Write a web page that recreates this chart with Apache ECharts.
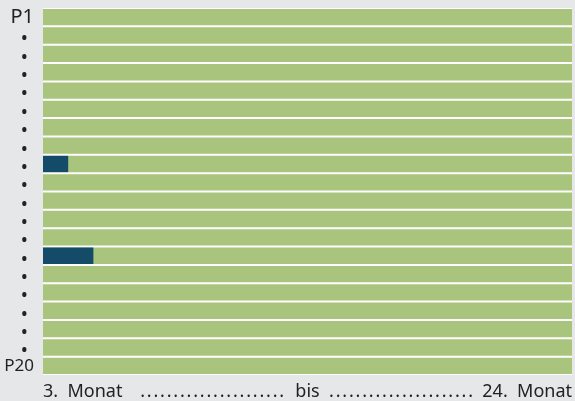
<!DOCTYPE html>
<html>
<head>
<meta charset="utf-8">
<script src="https://cdn.jsdelivr.net/npm/echarts@6/dist/echarts.min.js"></script>
<style>
  html, body { margin: 0; padding: 0; background: #e6e7e8; }
  #chart { width: 575px; height: 401px; }
</style>
</head>
<body>
<div id="chart"></div>
<script>
// Zeilen P1 .. P20
var rows = [];
for (var i = 1; i <= 20; i++) rows.push('P' + i);

// Laufzeit in Monaten ab dem 3. Monat (Gesamtspanne 21 Monate)
var spanMonths = 21;
var fullValues = rows.map(function () { return spanMonths; });
// dunkle Balken: nur Zeile 9 und 14
var doneValues = [0, 0, 0, 0, 0, 0, 0, 0, 1, 0, 0, 0, 0, 2, 0, 0, 0, 0, 0, 0];

// Punktleiste aus Punkten mit Haarspatium dazwischen
var leader = new Array(23).join('.\u200A');
var xTickLabels = ['3.  Monat', leader + '  bis  ' + leader, '24.  Monat'];

var chart = echarts.init(document.getElementById('chart'));
chart.setOption({
    backgroundColor: '#e6e7e8',
    animation: false,
    textStyle: { fontFamily: 'Noto Sans' },
    grid: {
        left: 43, right: 2, top: 8, bottom: 26,
        show: true, backgroundColor: '#ffffff', borderWidth: 0
    },
    xAxis: {
        type: 'value',
        min: 0, max: spanMonths, interval: spanMonths / 2,
        axisLine: { show: false },
        axisTick: { show: false },
        splitLine: { show: false },
        axisLabel: {
            color: '#222',
            fontSize: 18,
            margin: 8,
            alignMinLabel: 'left',
            alignMaxLabel: 'right',
            formatter: function (v) {
                if (v === 0) return xTickLabels[0];
                if (v === spanMonths) return xTickLabels[2];
                return xTickLabels[1];
            }
        }
    },
    yAxis: {
        type: 'category',
        data: rows,
        inverse: true,
        axisLine: { show: false },
        axisTick: { show: false },
        axisLabel: {
            interval: 0,
            margin: 9,
            formatter: function (v, idx) {
                if (idx === 0) return '{p1|' + v + '}';
                if (idx === rows.length - 1) return '{p|' + v + '}';
                return '{d|•}';
            },
            rich: {
                p1: { fontSize: 20, color: '#222' },
                p: { fontSize: 17, color: '#222' },
                d: { fontSize: 19, color: '#222', padding: [9, 6, 0, 0] }
            }
        }
    },
    series: [
        {
            type: 'bar',
            data: fullValues,
            barCategoryGap: '11%',
            barGap: '-100%',
            itemStyle: { color: '#a9c47c' },
            silent: true
        },
        {
            type: 'bar',
            data: doneValues,
            barCategoryGap: '11%',
            barGap: '-100%',
            itemStyle: { color: '#134b68' },
            silent: true
        }
    ]
});
</script>
</body>
</html>
